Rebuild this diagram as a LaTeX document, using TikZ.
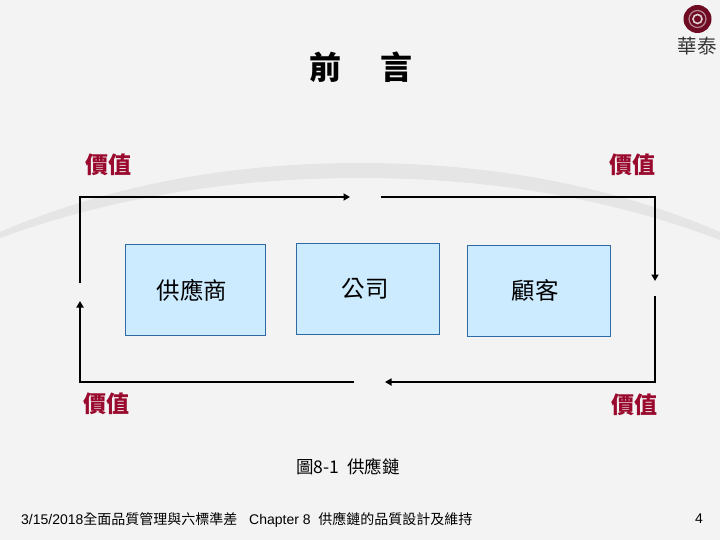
\documentclass[tikz,border=0pt]{standalone}
\usepackage{fontspec}
\setmainfont{Liberation Sans}
\newfontfamily\cjk{Noto Sans CJK TC}
\usetikzlibrary{arrows.meta}
\definecolor{bgc}{HTML}{F3F3F3}
\definecolor{swoosh}{HTML}{E5E5E5}
\definecolor{valred}{HTML}{9A0A2E}
\definecolor{boxfill}{HTML}{CCEBFF}
\definecolor{boxline}{HTML}{2F6AA3}
\definecolor{logored}{HTML}{6E0A22}
\tikzset{
  x=1pt,y=-1pt,
  valuebox/.style={draw=boxline,fill=boxfill,line width=1pt},
  boxtext/.style={font=\cjk\fontsize{23.5}{23.5}\selectfont,text=black,inner sep=0pt},
  vallabel/.style={font=\cjk\bfseries\fontsize{23}{23}\selectfont,text=valred,inner sep=0pt},
  flow/.style={line width=2pt,black,line join=miter},
  flowtip/.style={flow,-{Triangle[length=6.5pt,width=7pt]}},
}
\begin{document}
\begin{tikzpicture}
\useasboundingbox (0,0) rectangle (720,540);
\fill[bgc] (0,0) rectangle (720,540);
\fill[swoosh] (0,232) .. controls (110,185) and (230,163) .. (360,163)
  .. controls (490,163) and (610,185) .. (720,232)
  -- (720,240) .. controls (610,198) and (490,178) .. (360,178)
  .. controls (230,178) and (110,198) .. (0,238) -- cycle;
% logo
\fill[logored] (697.5,19) circle (14);
\draw[logored!45!bgc,line width=1.2pt] (697.5,19) circle (8.5);
\draw[bgc!85!logored,line width=1.6pt] (697.5,19) circle (4.5);
\node[inner sep=0pt,text=black!80,font=\cjk\fontsize{19.5}{19.5}\selectfont] (logotext) at (697,46) {華泰};
% title
\node[inner sep=0pt,font=\cjk\bfseries\fontsize{32}{32}\selectfont] (title1) at (325.5,67) {前};
\node[inner sep=0pt,font=\cjk\bfseries\fontsize{32}{32}\selectfont] (title2) at (396,67) {言};
% value labels
\node[vallabel] (v1) at (108,165) {價值};
\node[vallabel] (v2) at (632,165) {價值};
\node[vallabel] (v3) at (106,404) {價值};
\node[vallabel] (v4) at (634,405) {價值};
% boxes
\path[valuebox] (125.5,244.5) rectangle (265.5,335);
\path[valuebox] (296.5,243.5) rectangle (439.5,334);
\path[valuebox] (467.5,245.5) rectangle (610.5,336.5);
\node[boxtext] (sup) at (192,290) {供應商};
\node[boxtext] (com) at (365,289) {公司};
\node[boxtext] (cus) at (535,290.5) {顧客};
% connector anchors
\coordinate (a1) at (80,282.5);
\coordinate (a2) at (80,197);
\coordinate (a3) at (350,197);
\coordinate (b1) at (381,197);
\coordinate (b2) at (655,197);
\coordinate (b3) at (655,281);
\coordinate (c1) at (655,296);
\coordinate (c2) at (655,382);
\coordinate (c3) at (385,382);
\coordinate (d1) at (354,382);
\coordinate (d2) at (80,382);
\coordinate (d3) at (80,301);
\draw[flowtip] (a1) -- (a2) -- (a3);
\draw[flowtip] (b1) -- (b2) -- (b3);
\draw[flowtip] (c1) -- (c2) -- (c3);
\draw[flowtip] (d1) -- (d2) -- (d3);
% caption and footer
\node[inner sep=0pt,font=\cjk\fontsize{17.5}{17.5}\selectfont] (cap) at (348,467) {圖8-1\ \ 供應鏈};
\node[inner sep=0pt,anchor=west,font=\fontsize{14}{14}\selectfont] (foot) at (21,520)
  {3/15/2018{\cjk 全面品質管理與六標準差}\ \ \ Chapter 8\ \ {\cjk 供應鏈的品質設計及維持}};
\node[inner sep=0pt,font=\fontsize{14}{14}\selectfont] (page) at (699,519) {4};
\end{tikzpicture}
\end{document}
